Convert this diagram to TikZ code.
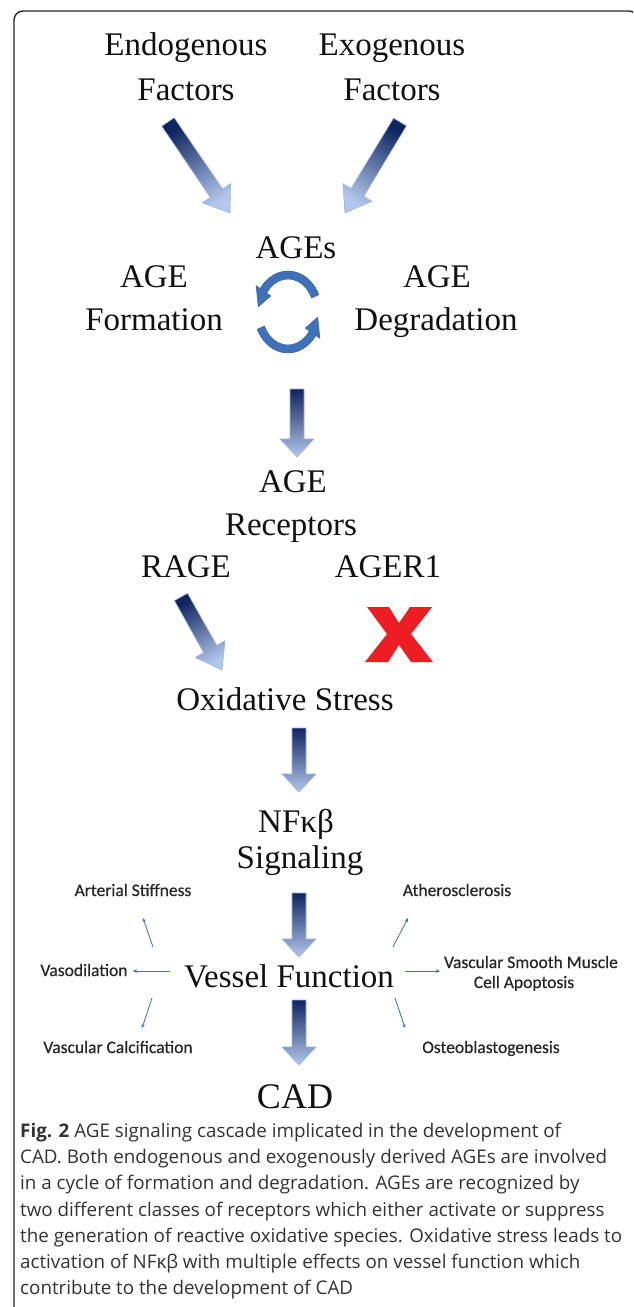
\documentclass[tikz,border=0pt]{standalone}
\usepackage{fontspec}
\setmainfont{Liberation Serif}
\newfontfamily\labfont[FakeBold=0.5]{Carlito}
\newfontfamily\capfont{Open Sans}
\usetikzlibrary{calc,arrows.meta}
\definecolor{arrdark}{HTML}{0F2560}
\definecolor{arrlight}{HTML}{B3C7EC}
\definecolor{arrdraw}{HTML}{9DB3DE}
\definecolor{cycblue}{HTML}{3F70BA}
\definecolor{xred}{HTML}{EE1D23}
\definecolor{thinblue}{HTML}{3F6FB8}
\definecolor{txt}{HTML}{111111}
\definecolor{labc}{HTML}{262626}
\definecolor{captxtc}{HTML}{333333}
\tikzset{
  big/.style={font=\fontsize{33}{40}\selectfont, text=txt, inner sep=0pt, anchor=base},
  lab/.style={font=\labfont\fontsize{17.5}{20}\selectfont, text=labc, inner sep=0pt, anchor=base},
  captxt/.style={font=\capfont\fontsize{18.8}{26}\selectfont, text=captxtc, inner sep=0pt, anchor=base west},
  bigarrow/.style={top color=arrdark, bottom color=arrlight, draw=arrdraw, line width=0.6},
  cyc/.style={fill=cycblue, draw=cycblue!80!black, line width=0.4},
  thinarr/.style={draw=thinblue, line width=0.8, -{Stealth[length=4pt,width=3.5pt]}},
}
\newcommand\fatarrow[6]{%
  \coordinate (fatH) at ($(#2)!#5!(#1)$);
  \shade[bigarrow, shading angle=#6] ($(#1)!#3!90:(#2)$) -- ($(fatH)!#3!90:(#2)$) -- ($(fatH)!#4!90:(#2)$) -- (#2) -- ($(fatH)!#4!-90:(#2)$) -- ($(fatH)!#3!-90:(#2)$) -- ($(#1)!#3!-90:(#2)$) -- cycle;
}
\begin{document}
\begin{tikzpicture}[x=1pt,y=1pt]
\useasboundingbox (0,0) rectangle (633,-1307);
\clip (0,0) rectangle (633,-1307);
\fill[white] (0,0) rectangle (633,-1307);
\draw[line width=1.4, draw=black!85, rounded corners=9] (14,-11) rectangle (638,-1340);

% texts
\node[big] (endo1) at (186,-55) {Endogenous};
\node[big] (endo2) at (186,-100) {Factors};
\node[big] (exo1) at (392,-55) {Exogenous};
\node[big] (exo2) at (392,-100) {Factors};
\node[big] (ages) at (296,-258) {AGEs};
\node[big] (form1) at (154,-287) {AGE};
\node[big] (form2) at (154,-330) {Formation};
\node[big] (degr1) at (437,-287) {AGE};
\node[big] (degr2) at (436,-330) {Degradation};
\node[big] (rec1) at (293,-492) {AGE};
\node[big] (rec2) at (291,-535) {Receptors};
\node[big] (rage) at (186,-577) {RAGE};
\node[big] (ager) at (388,-577) {AGER1};
\node[big] (ox) at (285,-710) {Oxidative Stress};
\node[big] (nf1) at (296,-832) {NFκβ};
\node[big] (nf2) at (300,-868) {Signaling};
\node[big] (vf) at (289,-987) {Vessel Function};
\node[big, font=\fontsize{36}{40}\selectfont] (cad) at (295,-1108) {CAD};

% big arrows
\coordinate (l1s) at (168,-122); \coordinate (l1e) at (230,-213);
\coordinate (r1s) at (400,-122); \coordinate (r1e) at (345,-213);
\fatarrow{l1s}{l1e}{7.5pt}{17pt}{24pt}{34}
\fatarrow{r1s}{r1e}{7.5pt}{17pt}{24pt}{-34}
\coordinate (d1s) at (297,-389); \coordinate (d1e) at (297,-457);
\fatarrow{d1s}{d1e}{7pt}{17pt}{18pt}{0}
\coordinate (rgs) at (181,-597); \coordinate (rge) at (222,-670);
\fatarrow{rgs}{rge}{7.5pt}{17pt}{24pt}{29}
\coordinate (d2s) at (299,-728); \coordinate (d2e) at (299,-792);
\fatarrow{d2s}{d2e}{7pt}{17pt}{18pt}{0}
\coordinate (d3s) at (299,-893); \coordinate (d3e) at (299,-957);
\fatarrow{d3s}{d3e}{7pt}{17pt}{18pt}{0}
\coordinate (d4s) at (299,-1000); \coordinate (d4e) at (299,-1065);
\fatarrow{d4s}{d4e}{7pt}{17pt}{18pt}{0}

% cycle arrows
\coordinate (cc) at (288,-312);
\fill[cyc] ($(cc)+(25:34 and 41)$) arc[start angle=25,end angle=145,x radius=34,y radius=41]
  -- ($(cc)+(145:39 and 46)$) -- ($(cc)+(172:30 and 37)$) -- ($(cc)+(145:21 and 28)$)
  -- ($(cc)+(145:26 and 33)$) arc[start angle=145,end angle=25,x radius=26,y radius=33] -- cycle;
\fill[cyc] ($(cc)+(205:34 and 41)$) arc[start angle=205,end angle=325,x radius=34,y radius=41]
  -- ($(cc)+(325:39 and 46)$) -- ($(cc)+(352:30 and 37)$) -- ($(cc)+(325:21 and 28)$)
  -- ($(cc)+(325:26 and 33)$) arc[start angle=325,end angle=205,x radius=26,y radius=33] -- cycle;

% red X
\fill[xred] (367,-607) -- (389,-607) -- (399,-623) -- (410,-607) -- (432,-607) -- (411,-634)
  -- (433,-662) -- (411,-662) -- (399,-645) -- (388,-662) -- (365,-662) -- (387,-634) -- cycle;

% effect labels
\node[lab] (stiff) at (133,-896) {Arterial Stiffness};
\node[lab] (ather) at (457,-896) {Atherosclerosis};
\node[lab] (vaso) at (84,-976) {Vasodilation};
\node[lab] (vsmc1) at (531,-968) {Vascular Smooth Muscle};
\node[lab] (vsmc2) at (524,-988) {Cell Apoptosis};
\node[lab] (calc) at (118,-1053) {Vascular Calcification};
\node[lab] (osteo) at (491,-1053) {Osteoblastogenesis};

\coordinate (asS) at (153,-947); \coordinate (asE) at (143,-918);
\coordinate (atS) at (393,-947); \coordinate (atE) at (408,-918);
\coordinate (vaS) at (170,-971); \coordinate (vaE) at (133,-971);
\coordinate (vsS) at (405,-971); \coordinate (vsE) at (440,-971);
\coordinate (vcS) at (152,-998); \coordinate (vcE) at (142,-1028);
\coordinate (osS) at (395,-998); \coordinate (osE) at (405,-1028);
\draw[thinarr] (asS) -- (asE);
\draw[thinarr] (atS) -- (atE);
\draw[thinarr] (vaS) -- (vaE);
\draw[thinarr] (vsS) -- (vsE);
\draw[thinarr] (vcS) -- (vcE);
\draw[thinarr] (osS) -- (osE);

% caption
\node[captxt] (cap1) at (20,-1137) {\textbf{Fig. 2} AGE signaling cascade implicated in the development of};
\node[captxt] (cap2) at (20,-1163) {CAD. Both endogenous and exogenously derived AGEs are involved};
\node[captxt] (cap3) at (20,-1189) {in a cycle of formation and degradation. AGEs are recognized by};
\node[captxt] (cap4) at (20,-1216) {two different classes of receptors which either activate or suppress};
\node[captxt] (cap5) at (20,-1242) {the generation of reactive oxidative species. Oxidative stress leads to};
\node[captxt] (cap6) at (20,-1268) {activation of NFκβ with multiple effects on vessel function which};
\node[captxt] (cap7) at (20,-1294) {contribute to the development of CAD};
\end{tikzpicture}
\end{document}
